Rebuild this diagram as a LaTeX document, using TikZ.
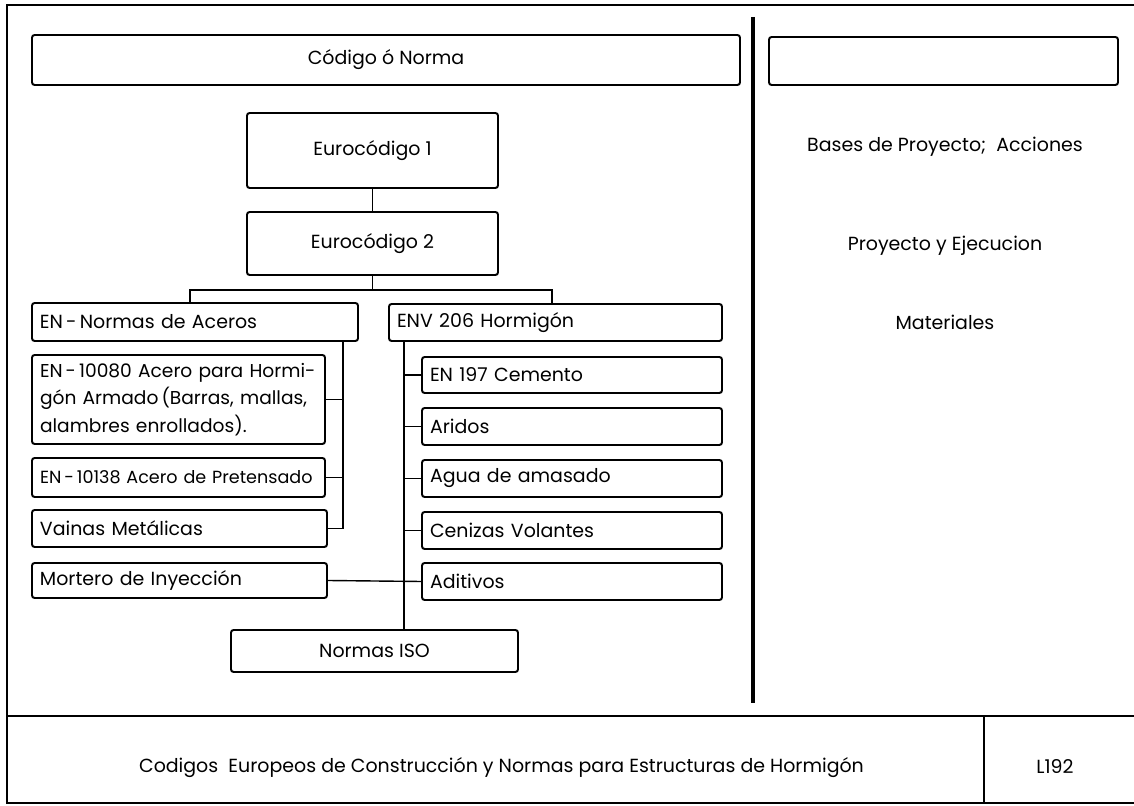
\documentclass[tikz,border=0pt]{standalone}
\usepackage{fontspec}
\setmainfont{Poppins}

\begin{document}
\begin{tikzpicture}[caja/.style={draw, line width=1.1pt, rounded corners=1.5pt, inner sep=0pt, font=\fontsize{10.8}{16}\selectfont},
  izq/.style={align=left, inner xsep=0.16cm},
  linea/.style={line width=0.8pt},
  marco/.style={line width=0.9pt},
  texto/.style={font=\fontsize{10.8}{12}\selectfont}]
\useasboundingbox (0,0) rectangle (22.68,-16.12);
% marco y cajetin
\draw[marco] (23,-0.10) -- (0.14,-0.10) -- (0.14,-16.06) -- (23,-16.06);
\draw[marco] (0.14,-14.32) -- (23,-14.32);
\draw[marco] (19.68,-14.32) -- (19.68,-16.06);
\draw[line width=2pt] (15.06,-0.34) -- (15.06,-14.06);
% cajas
\node[caja, minimum width=14.16cm, minimum height=1cm] (codigo) at (7.72,-1.20) {Código ó Norma};
\node[caja, minimum width=6.98cm, minimum height=0.96cm] (vacio) at (18.87,-1.22) {};
\node[caja, minimum width=5.02cm, minimum height=1.5cm] (euro1) at (7.45,-3.01) {Eurocódigo 1};
\node[caja, minimum width=5.02cm, minimum height=1.26cm] (euro2) at (7.45,-4.87) {Eurocódigo 2};
\node[caja, izq, text width=6.20cm, minimum height=0.76cm] (aceros) at (3.90,-6.44) {EN\,-\,Normas de Aceros};
\node[caja, izq, text width=6.34cm, minimum height=0.74cm] (env) at (11.11,-6.45) {ENV 206 Hormigón};
\node[caja, izq, text width=5.54cm, minimum height=1.78cm, font=\fontsize{10.6}{15.5}\selectfont] (acero80) at (3.57,-7.99) {EN\,-\,10080 Acero para Hormi-\\gón Armado\,(Barras, mallas,\\alambres enrollados).};
\node[caja, izq, text width=5.54cm, minimum height=0.78cm, font=\fontsize{10}{16}\selectfont] (acero38) at (3.57,-9.55) {\mbox{EN\,-\,10138 Acero de Pretensado}};
\node[caja, izq, text width=5.58cm, minimum height=0.74cm] (vainas) at (3.59,-10.57) {Vainas Metálicas};
\node[caja, izq, text width=5.58cm, minimum height=0.70cm] (mortero) at (3.59,-11.61) {Mortero de Inyección};
\node[caja, izq, text width=5.68cm, minimum height=0.72cm] (cemento) at (11.44,-7.50) {EN 197 Cemento};
\node[caja, izq, text width=5.68cm, minimum height=0.74cm] (aridos) at (11.44,-8.53) {Aridos};
\node[caja, izq, text width=5.68cm, minimum height=0.74cm] (agua) at (11.44,-9.57) {Agua de amasado};
\node[caja, izq, text width=5.68cm, minimum height=0.74cm] (cenizas) at (11.44,-10.61) {Cenizas Volantes};
\node[caja, izq, text width=5.68cm, minimum height=0.74cm] (aditivos) at (11.44,-11.63) {Aditivos};
\node[caja, minimum width=5.74cm, minimum height=0.84cm] (iso) at (7.49,-13.02) {Normas ISO};
% columna derecha
\node[texto] (bases) at (18.90,-2.94) {Bases de Proyecto;\ \ Acciones};
\node[texto] (proyecto) at (18.90,-4.92) {Proyecto y Ejecucion};
\node[texto] (materiales) at (18.90,-6.44) {Materiales};
% cajetin
\node[texto] (titulo) at (10.03,-15.36) {Codigos\ \ Europeos de Construcción y Normas para Estructuras de Hormigón};
\node[texto] (lamina) at (21.10,-15.34) {L192};
% uniones
\coordinate (bi) at (3.80,-5.80);
\coordinate (bd) at (11.04,-5.80);
\draw[linea] (euro1.south) -- (euro2.north);
\draw[linea] (euro2.south) -- (euro2.south |- bi);
\draw[linea] (bi |- aceros.north) -- (bi) -- (bd) -- (bd |- env.north);
\coordinate (ti) at (6.86,-6.44);
\draw[linea] (ti |- aceros.south) |- (vainas.east);
\draw[linea] (acero80.east) -- (acero80.east -| ti);
\draw[linea] (acero38.east) -- (acero38.east -| ti);
\coordinate (td) at (8.08,-6.45);
\draw[linea] (td |- env.south) -- (td |- iso.north);
\foreach \n in {cemento,aridos,agua,cenizas,aditivos}
  \draw[linea] (\n.west) -- (\n.west -| td);
\draw[linea] (mortero.east) -- (aditivos.west);
\end{tikzpicture}
\end{document}
